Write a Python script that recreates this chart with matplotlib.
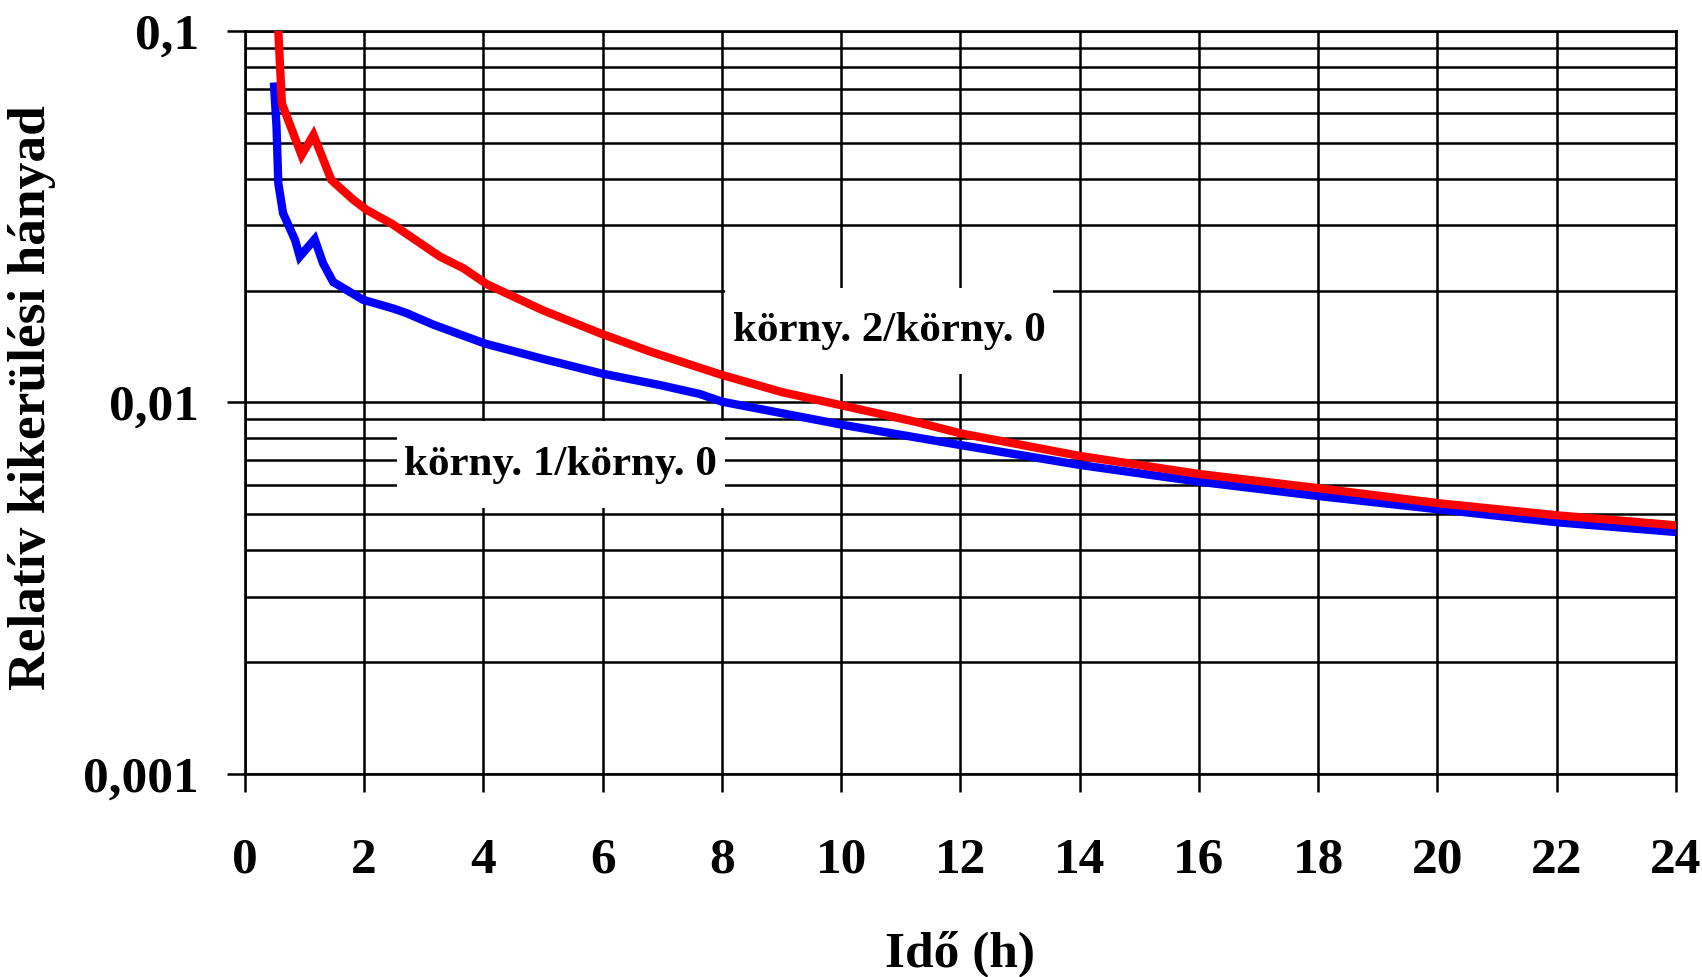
import matplotlib
matplotlib.use("Agg")
import matplotlib.pyplot as plt
from matplotlib.patches import Rectangle
from matplotlib.ticker import FixedLocator, NullFormatter

# Time axis (hours) and relative ratios of the two environments vs. environment 0
time_env2 = [0.56, 0.62, 0.95, 1.15, 1.45, 1.82, 2.04, 2.46, 2.66, 3.27, 3.66,
             4.06, 5.00, 5.96, 6.80, 8.00, 9.00, 10.0, 11.25, 12.0, 14.0,
             16.0, 18.0, 20.0, 22.0, 24.0]
ratio_env2 = [0.100, 0.0638, 0.0463, 0.0525, 0.0397, 0.0351, 0.0330, 0.0303,
              0.0288, 0.0247, 0.0230, 0.0208, 0.0177, 0.01535, 0.0137, 0.01186,
              0.01067, 0.00983, 0.00887, 0.00826, 0.00718, 0.00642, 0.00588,
              0.00536, 0.00497, 0.00467]

time_env1 = [0.49, 0.53, 0.56, 0.64, 0.84, 0.92, 1.17, 1.31, 1.48, 1.98, 2.49,
             2.71, 3.16, 4.03, 5.00, 5.96, 6.96, 7.63, 8.00, 10.0, 12.0, 14.0,
             16.0, 18.0, 20.0, 22.0, 24.0]
ratio_env1 = [0.0708, 0.0552, 0.0389, 0.0323, 0.0274, 0.0247, 0.0275, 0.0237,
              0.0211, 0.0189, 0.0179, 0.0174, 0.0162, 0.0144, 0.0131, 0.01199,
              0.01114, 0.01054, 0.01005, 0.00872, 0.00768, 0.00679, 0.00612,
              0.0056, 0.00516, 0.00476, 0.00448]

label_env2 = "körny. 2/körny. 0"
label_env1 = "körny. 1/körny. 0"

x_ticks = list(range(0, 25, 2))
y_major = [0.001, 0.01, 0.1]
y_major_labels = ["0,001", "0,01", "0,1"]
y_minor = [m * d for d in (0.001, 0.01) for m in range(2, 10)]

x_title = "Idő (h)"
y_title = "Relatív kikerülési hányad"

plt.rcParams["font.family"] = ["Liberation Serif", "DejaVu Serif"]
plt.rcParams["font.weight"] = "bold"

fig = plt.figure(figsize=(17.02, 9.77), dpi=100)
ax = fig.add_axes([0.1439, 0.2078, 0.9847 - 0.1439, 0.9683 - 0.2078])

ax.set_yscale("log")
ax.set_xlim(0, 24)
ax.set_ylim(0.001, 0.1)

ax.plot(time_env2, ratio_env2, color="#ff0000", lw=6.0, zorder=5,
        solid_joinstyle="miter")
ax.plot(time_env1, ratio_env1, color="#0000ff", lw=6.0, zorder=4,
        solid_joinstyle="miter")

ax.xaxis.set_major_locator(FixedLocator(x_ticks))
ax.set_xticklabels([str(t) for t in x_ticks])
ax.yaxis.set_major_locator(FixedLocator(y_major))
ax.set_yticklabels(y_major_labels)
ax.yaxis.set_minor_locator(FixedLocator(y_minor))
ax.yaxis.set_minor_formatter(NullFormatter())

grid_kw = dict(color="black", linewidth=1.8)
ax.grid(True, which="major", axis="both", **grid_kw)
ax.grid(True, which="minor", axis="y", **grid_kw)
ax.set_axisbelow(True)

for s in ax.spines.values():
    s.set_linewidth(1.9)
    s.set_color("black")

ax.tick_params(axis="y", which="major", direction="out", length=13, width=1.8,
               pad=20, labelsize=37)
ax.tick_params(axis="y", which="minor", length=0)
ax.tick_params(axis="x", which="major", direction="out", length=13, width=1.8,
               pad=33, labelsize=37)
for lbl in ax.get_xticklabels() + ax.get_yticklabels():
    lbl.set_fontweight("bold")

ax.set_xlabel(x_title, fontsize=37, fontweight="bold")
ax.xaxis.set_label_coords(0.5, -0.211)
ax.set_ylabel(y_title, fontsize=38.5, fontweight="bold")
ax.yaxis.set_label_coords(-0.1317, 0.507)

# White label panels (axes-fraction coordinates) behind the series names
for (x0, y0, w, h) in [(0.3354, 0.5384, 0.2292, 0.1157),
                       (0.1062, 0.3580, 0.2292, 0.1171)]:
    ax.add_patch(Rectangle((x0, y0), w, h, transform=ax.transAxes,
                           facecolor="white", edgecolor="none", zorder=2))

ax.text(0.4500, 0.5962, label_env2, transform=ax.transAxes, fontsize=31,
        fontweight="bold", ha="center", va="center", zorder=3)
ax.text(0.2208, 0.4165, label_env1, transform=ax.transAxes, fontsize=31,
        fontweight="bold", ha="center", va="center", zorder=3)

fig.savefig("out.png", dpi=100, facecolor="white")
